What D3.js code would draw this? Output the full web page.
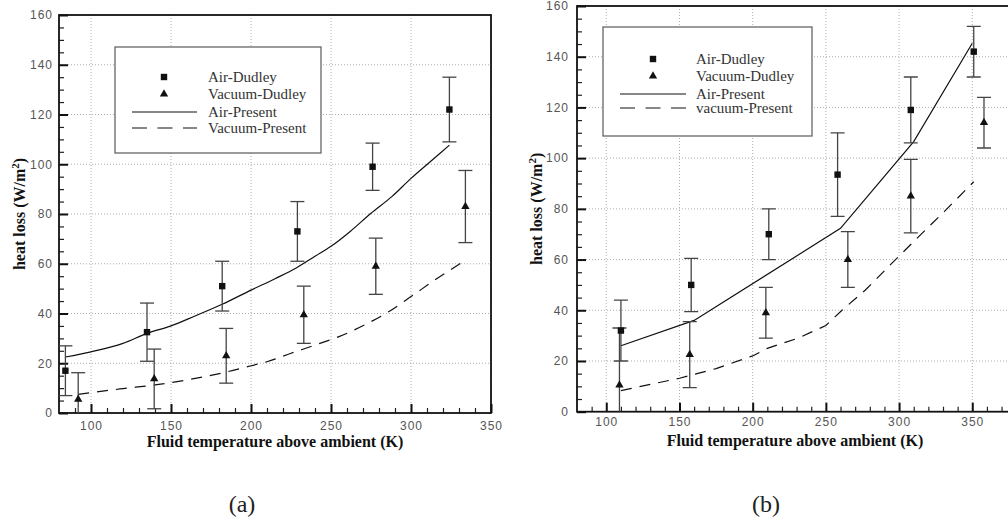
<!DOCTYPE html>
<html>
<head>
<meta charset="utf-8">
<script src="https://cdn.jsdelivr.net/npm/d3@7"></script>
<style>
  body { margin: 0; background: #fff; }
  .tick text { font-family: "Liberation Sans", Arial, sans-serif; font-size: 12px; fill: #555; letter-spacing: 1px; }
</style>
</head>
<body>
<svg id="chart" width="1008" height="524"></svg>
<script>
var yTicks = [0, 20, 40, 60, 80, 100, 120, 140, 160];
var xTicksA = [100, 150, 200, 250, 300, 350];
var xTicksB = [100, 150, 200, 250, 300, 350];

// panel (a)
var airDudleyA_x = [84, 135, 182, 229, 276, 324];
var airDudleyA_y = [17, 32.5, 51, 73, 99, 122];
var airDudleyA_err = [10, 11.7, 10, 12, 9.5, 13];
var vacDudleyA_x = [92, 139.5, 184.5, 233, 278, 334];
var vacDudleyA_y = [5.5, 13.7, 23, 39.5, 59, 83];
var vacDudleyA_err = [10.7, 12, 11, 11.5, 11.3, 14.5];
var airPresentA_x = [84, 100, 120, 135, 150, 165, 182, 200, 215, 228, 240, 250, 262, 275, 288, 300, 312, 324];
var airPresentA_y = [22.5, 24.6, 28, 32, 35, 39, 43.7, 49.4, 54, 58.2, 63, 67, 73, 80.3, 87, 94.3, 101, 107.7];
var vacPresentA_x = [92, 100, 120, 140, 160, 184, 200, 210, 225, 240, 255, 271, 286, 300, 315, 333];
var vacPresentA_y = [7.5, 8.2, 9.8, 11.3, 13.3, 16.4, 19, 20.6, 24, 27.3, 30.7, 35.4, 40.7, 46.8, 53.5, 61];

// panel (b)
var airDudleyB_x = [110, 158, 211, 258, 308, 351];
var airDudleyB_y = [32, 50, 70, 93.5, 119, 142];
var airDudleyB_err = [12, 10.5, 10, 16.5, 13, 10];
var vacDudleyB_x = [109, 157, 209, 265, 308, 358];
var vacDudleyB_y = [10.5, 22.5, 39, 60, 85, 114];
var vacDudleyB_err = [22.5, 13, 10, 11, 14.5, 10];
var airPresentB_x = [110, 160, 260, 310, 350];
var airPresentB_y = [26, 36, 72.3, 106.5, 145.3];
var vacPresentB_x = [110, 150, 175, 200, 210, 231, 250, 261, 277, 295, 311, 331, 351];
var vacPresentB_y = [8.3, 13.2, 17, 22, 25, 29, 34, 40, 48, 58.5, 67.7, 79, 90.7];

var legendA = ['Air-Dudley', 'Vacuum-Dudley', 'Air-Present', 'Vacuum-Present'];
var legendB = ['Air-Dudley', 'Vacuum-Dudley', 'Air-Present', 'vacuum-Present'];

function zip(xs, ys, es) {
  return xs.map(function(v, i) { return { x: v, y: ys[i], e: es ? es[i] : 0 }; });
}

var svg = d3.select('#chart');
svg.append('rect').attr('width', 1008).attr('height', 524).attr('fill', '#fff');

function drawPanel(p) {
  var x = d3.scaleLinear().domain(p.xDomain).range([p.left, p.right]);
  var y = d3.scaleLinear().domain([0, 160]).range([p.bottom, p.top]);
  var g = svg.append('g');

  g.append('clipPath').attr('id', 'clip-' + p.id)
    .append('rect')
      .attr('x', p.left).attr('y', p.top)
      .attr('width', p.right - p.left).attr('height', p.bottom - p.top);

  // dotted grid
  var grid = g.append('g').attr('stroke', '#999').attr('stroke-width', 0.8).attr('stroke-dasharray', '1,2');
  grid.selectAll('line.gx').data(p.xTicks).join('line')
      .attr('class', 'gx')
      .attr('x1', function(d) { return x(d); }).attr('x2', function(d) { return x(d); })
      .attr('y1', p.top).attr('y2', p.bottom);
  grid.selectAll('line.gy').data(yTicks.slice(1, -1)).join('line')
      .attr('class', 'gy')
      .attr('x1', p.left).attr('x2', p.right)
      .attr('y1', function(d) { return y(d); }).attr('y2', function(d) { return y(d); });

  // minor ticks
  var xMinor = d3.range(p.xDomain[0] + 10, p.xDomain[1], 10).filter(function(d) { return d % 50 !== 0; });
  var yMinor = d3.range(5, 160, 5).filter(function(d) { return d % 20 !== 0; });
  g.append('g').attr('transform', 'translate(0,' + p.bottom + ')')
    .call(d3.axisBottom(x).tickValues(xMinor).tickSize(-5).tickFormat(''))
    .call(function(s) { s.select('.domain').remove(); s.selectAll('line').attr('stroke', '#222').attr('stroke-width', 1.2); });
  g.append('g').attr('transform', 'translate(' + p.left + ',0)')
    .call(d3.axisLeft(y).tickValues(yMinor).tickSize(-5).tickFormat(''))
    .call(function(s) { s.select('.domain').remove(); s.selectAll('line').attr('stroke', '#222').attr('stroke-width', 1.2); });

  // major ticks + labels
  g.append('g').attr('transform', 'translate(0,' + p.bottom + ')')
    .call(d3.axisBottom(x).tickValues(p.xTicks).tickSizeInner(-9).tickSizeOuter(0).tickPadding(p.xPad))
    .call(function(s) { s.select('.domain').remove(); s.selectAll('line').attr('stroke', '#111').attr('stroke-width', 2); });
  g.append('g').attr('transform', 'translate(' + p.left + ',0)')
    .call(d3.axisLeft(y).tickValues(yTicks).tickSizeInner(-9).tickSizeOuter(0).tickPadding(p.yPad))
    .call(function(s) { s.select('.domain').remove(); s.selectAll('line').attr('stroke', '#111').attr('stroke-width', 2); });

  // frame
  g.append('rect')
    .attr('x', p.left).attr('y', p.top)
    .attr('width', p.right - p.left).attr('height', p.bottom - p.top)
    .attr('fill', 'none').attr('stroke', '#111').attr('stroke-width', 1.8);

  var plot = g.append('g').attr('clip-path', 'url(#clip-' + p.id + ')');
  var line = d3.line().x(function(d) { return x(d.x); }).y(function(d) { return y(d.y); }).curve(p.curve);

  plot.append('path').datum(p.airPresent)
    .attr('d', line).attr('fill', 'none').attr('stroke', '#111').attr('stroke-width', 1.2);
  plot.append('path').datum(p.vacPresent)
    .attr('d', line).attr('fill', 'none').attr('stroke', '#111').attr('stroke-width', 1.2)
    .attr('stroke-dasharray', '11,8');

  // error bars
  [p.airDudley, p.vacDudley].forEach(function(series) {
    var eb = plot.append('g').attr('stroke', '#444').attr('stroke-width', 1.3);
    series.forEach(function(d) {
      var lo = Math.max(0, d.y - d.e), hi = d.y + d.e;
      eb.append('line').attr('x1', x(d.x)).attr('x2', x(d.x)).attr('y1', y(lo)).attr('y2', y(hi));
      eb.append('line').attr('x1', x(d.x) - 7).attr('x2', x(d.x) + 7).attr('y1', y(hi)).attr('y2', y(hi));
      if (d.y - d.e > 0) {
        eb.append('line').attr('x1', x(d.x) - 7).attr('x2', x(d.x) + 7).attr('y1', y(lo)).attr('y2', y(lo));
      }
    });
  });

  plot.selectAll('rect.sq').data(p.airDudley).join('rect')
    .attr('class', 'sq')
    .attr('x', function(d) { return x(d.x) - 3.2; }).attr('y', function(d) { return y(d.y) - 3.2; })
    .attr('width', 6.4).attr('height', 6.4).attr('fill', '#111');
  var tri = d3.symbol().type(d3.symbolTriangle).size(30);
  plot.selectAll('path.tri').data(p.vacDudley).join('path')
    .attr('class', 'tri')
    .attr('transform', function(d) { return 'translate(' + x(d.x) + ',' + y(d.y) + ')'; })
    .attr('d', tri).attr('fill', '#111');

  // legend
  var L = p.legend;
  var lg = g.append('g');
  lg.append('rect').attr('x', L.x0).attr('y', L.y0).attr('width', L.x1 - L.x0).attr('height', L.y1 - L.y0)
    .attr('fill', '#fff').attr('stroke', '#666').attr('stroke-width', 1.3);
  lg.append('rect').attr('x', L.mx - 3.2).attr('y', L.rows[0] - 3.2).attr('width', 6.4).attr('height', 6.4).attr('fill', '#111');
  lg.append('path').attr('transform', 'translate(' + L.mx + ',' + L.rows[1] + ')').attr('d', tri).attr('fill', '#111');
  lg.append('line').attr('x1', L.l0).attr('x2', L.l1).attr('y1', L.rows[2]).attr('y2', L.rows[2])
    .attr('stroke', '#111').attr('stroke-width', 1.2);
  lg.append('line').attr('x1', L.l0).attr('x2', L.l1).attr('y1', L.rows[3]).attr('y2', L.rows[3])
    .attr('stroke', '#111').attr('stroke-width', 1.2).attr('stroke-dasharray', '15,10.5');
  lg.selectAll('text').data(L.labels).join('text')
    .attr('x', L.tx).attr('y', function(d, i) { return L.rows[i] + 5; })
    .attr('font-family', '"Liberation Serif", "Times New Roman", serif').attr('font-size', 15).attr('fill', '#333')
    .text(function(d) { return d; });

  // axis titles
  var yt = g.append('text')
    .attr('transform', 'translate(' + p.yTitleX + ',' + ((p.top + p.bottom) / 2) + ') rotate(-90)')
    .attr('text-anchor', 'middle')
    .attr('font-family', '"Liberation Serif", "Times New Roman", serif').attr('font-weight', 'bold').attr('font-size', 16)
    .attr('fill', '#111');
  yt.append('tspan').text('heat loss (W/m');
  yt.append('tspan').attr('dy', -6).attr('font-size', 11).text('2');
  yt.append('tspan').attr('dy', 6).text(')');

  g.append('text')
    .attr('x', p.xTitleX).attr('y', p.xTitleY).attr('text-anchor', 'middle')
    .attr('font-family', '"Liberation Serif", "Times New Roman", serif').attr('font-weight', 'bold').attr('font-size', 16)
    .attr('fill', '#111')
    .text('Fluid temperature above ambient (K)');

  g.append('text')
    .attr('x', p.capX).attr('y', 512).attr('text-anchor', 'middle')
    .attr('font-family', '"Liberation Serif", "Times New Roman", serif').attr('font-size', 24).attr('fill', '#222')
    .text(p.caption);
}

drawPanel({
  id: 'a', left: 59, right: 491, top: 15, bottom: 413, xDomain: [80, 350], xTicks: xTicksA, xPad: 8, yPad: 6,
  curve: d3.curveMonotoneX,
  airDudley: zip(airDudleyA_x, airDudleyA_y, airDudleyA_err),
  vacDudley: zip(vacDudleyA_x, vacDudleyA_y, vacDudleyA_err),
  airPresent: zip(airPresentA_x, airPresentA_y),
  vacPresent: zip(vacPresentA_x, vacPresentA_y),
  legend: { x0: 115, x1: 321, y0: 47, y1: 153, mx: 164, l0: 132, l1: 197, tx: 208,
            rows: [77, 94, 112, 128], labels: legendA },
  yTitleX: 25, xTitleX: 275, xTitleY: 447, capX: 242, caption: '(a)'
});

drawPanel({
  id: 'b', left: 577, right: 577 + 300 * 1.464, top: 6, bottom: 411.7, xDomain: [80, 380], xTicks: xTicksB, xPad: 6, yPad: 8,
  curve: d3.curveLinear,
  airDudley: zip(airDudleyB_x, airDudleyB_y, airDudleyB_err),
  vacDudley: zip(vacDudleyB_x, vacDudleyB_y, vacDudleyB_err),
  airPresent: zip(airPresentB_x, airPresentB_y),
  vacPresent: zip(vacPresentB_x, vacPresentB_y),
  legend: { x0: 603, x1: 812, y0: 27, y1: 136, mx: 653, l0: 620, l1: 686, tx: 696,
            rows: [59, 76, 94, 108], labels: legendB },
  yTitleX: 542, xTitleX: 795, xTitleY: 446, capX: 766, caption: '(b)'
});
</script>
</body>
</html>
